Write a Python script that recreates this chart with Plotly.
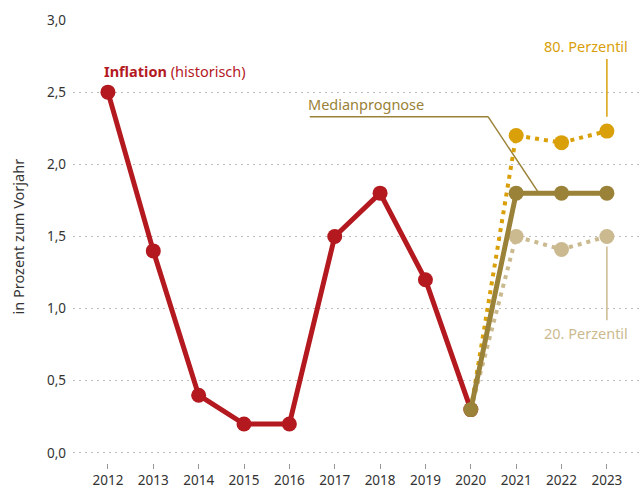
import plotly.graph_objects as go

years_hist = [2012, 2013, 2014, 2015, 2016, 2017, 2018, 2019, 2020]
inflation = [2.5, 1.4, 0.4, 0.2, 0.2, 1.5, 1.8, 1.2, 0.3]

years_fc = [2020, 2021, 2022, 2023]
median = [0.3, 1.8, 1.8, 1.8]
p80 = [0.3, 2.2, 2.15, 2.23]
p20 = [0.3, 1.5, 1.41, 1.5]

x_ticks = list(range(2012, 2024))
y_ticks = [0, 0.5, 1.0, 1.5, 2.0, 2.5, 3.0]

RED = "#B3191F"
OLIVE = "#9A8238"
GOLD = "#D9A00A"
BEIGE = "#CBBA90"
FONT = "Noto Sans"

fig = go.Figure()

fig.add_trace(go.Scatter(x=years_hist, y=inflation, mode="lines+markers",
                         line=dict(color=RED, width=5),
                         marker=dict(size=15, color=RED, line=dict(width=0)), showlegend=False))
fig.add_trace(go.Scatter(x=years_fc, y=p20, mode="lines+markers",
                         line=dict(color=BEIGE, width=4, dash="4px,5px"),
                         marker=dict(size=[0, 15, 15, 15], color=BEIGE, opacity=1, line=dict(width=0)),
                         showlegend=False))
fig.add_trace(go.Scatter(x=years_fc, y=p80, mode="lines+markers",
                         line=dict(color=GOLD, width=4, dash="4px,5px"),
                         marker=dict(size=[0, 15, 15, 15], color=GOLD, opacity=1, line=dict(width=0)),
                         showlegend=False))
fig.add_trace(go.Scatter(x=years_fc, y=median, mode="lines+markers",
                         line=dict(color=OLIVE, width=5),
                         marker=dict(size=15, color=OLIVE, line=dict(width=0)), showlegend=False))

# leader lines
fig.add_shape(type="line", x0=2016.45, y0=2.33, x1=2020.38, y1=2.33,
              line=dict(color=OLIVE, width=1.5), layer="below")
fig.add_shape(type="line", x0=2020.38, y0=2.33, x1=2021.5, y1=1.8,
              line=dict(color=OLIVE, width=1.5), layer="below")
fig.add_shape(type="line", x0=2023, y0=2.73, x1=2023, y1=2.33,
              line=dict(color=GOLD, width=1.5))
fig.add_shape(type="line", x0=2023, y0=1.43, x1=2023, y1=0.92,
              line=dict(color=BEIGE, width=1.5))

ann_font = dict(family=FONT, size=14.5)
fig.add_annotation(x=2011.86, y=2.65, text="<b>Inflation</b> (historisch)", showarrow=False,
                   xanchor="left", yanchor="middle", font=dict(**ann_font, color=RED))
fig.add_annotation(x=2016.36, y=2.42, text="Medianprognose", showarrow=False,
                   xanchor="left", yanchor="middle", font=dict(**ann_font, color=OLIVE))
fig.add_annotation(x=2022.54, y=2.82, text="80. Perzentil", showarrow=False,
                   xanchor="center", yanchor="middle", font=dict(**ann_font, color=GOLD))
fig.add_annotation(x=2022.54, y=0.83, text="20. Perzentil", showarrow=False,
                   xanchor="center", yanchor="middle", font=dict(**ann_font, color=BEIGE))
fig.add_annotation(xref="paper", x=-0.097, y=1.5, text="in Prozent zum Vorjahr", showarrow=False,
                   textangle=-90, xanchor="center", yanchor="middle",
                   font=dict(family=FONT, size=14.5, color="#333333"))

fig.update_layout(
    width=642, height=490,
    margin=dict(l=73, r=2, t=20, b=27, autoexpand=False),
    paper_bgcolor="white", plot_bgcolor="white",
    separators=",.",
    font=dict(family=FONT, size=13.5, color="#333333"),
    xaxis=dict(range=[2011.23, 2023.73], tickvals=x_ticks, ticktext=[str(v) for v in x_ticks],
               showgrid=False, zeroline=False, showline=False, automargin=False,
               ticks="outside", ticklen=5, tickcolor="#999999", tickwidth=1,
               tickfont=dict(size=13.5, color="#333333")),
    yaxis=dict(range=[-0.07, 3.0], tickvals=y_ticks, tickformat=".1f",
               showgrid=True, gridcolor="#BDBDBD", griddash="2px,4px", gridwidth=1,
               zeroline=False, showline=False, ticks="", automargin=False,
               ticklabelstandoff=6,
               tickfont=dict(size=13.5, color="#333333")),
)

fig.write_html("out.html", config={"displayModeBar": False},
               post_script="document.body.style.margin='0px';")
